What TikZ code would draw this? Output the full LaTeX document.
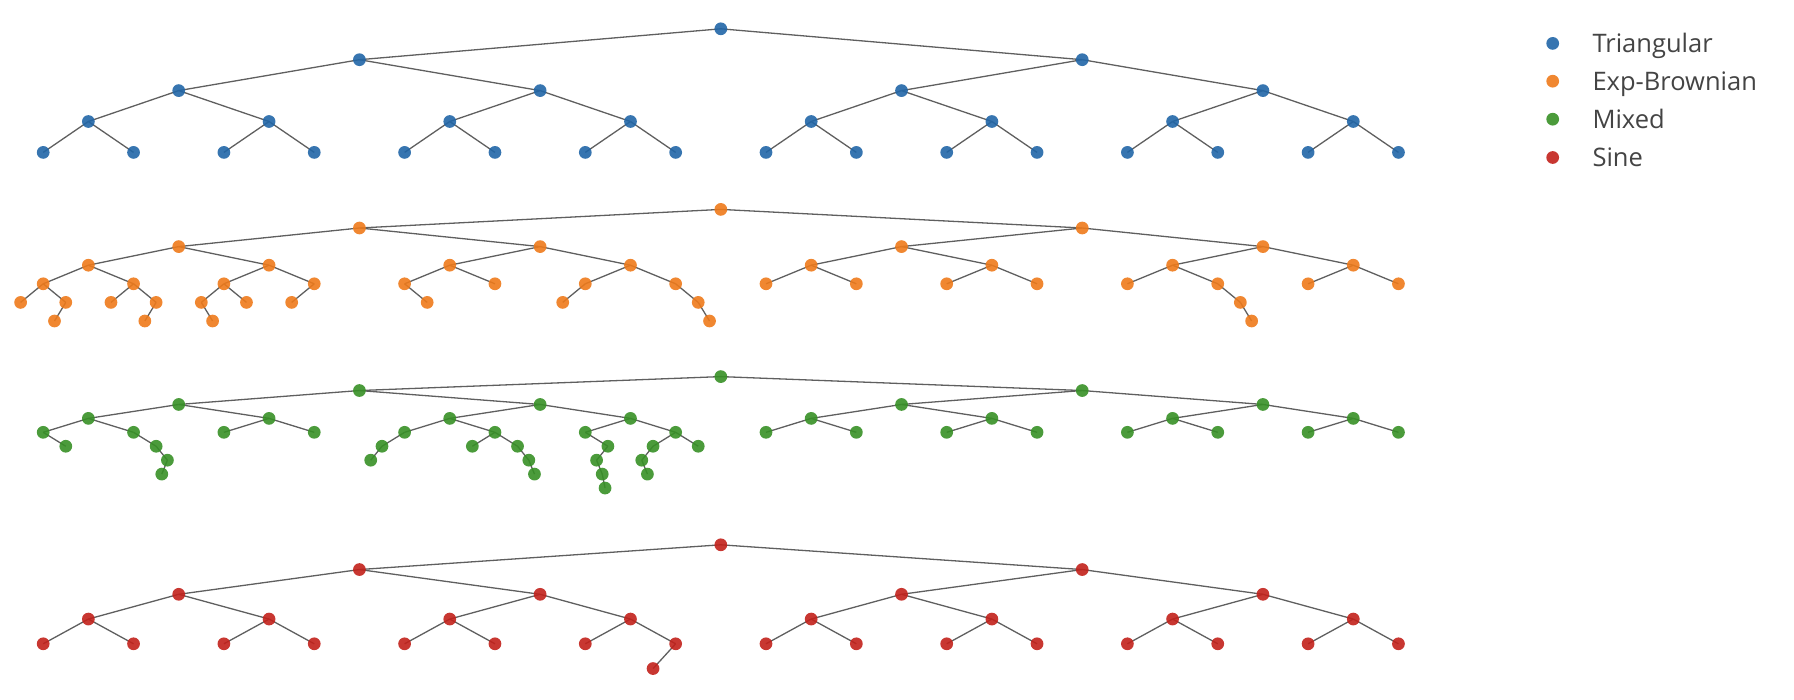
\documentclass[tikz,border=0pt]{standalone}
\usepackage{fontspec}
\setmainfont{Open Sans}
\pgfdeclarelayer{bg}
\pgfsetlayers{bg,main}
\definecolor{cblue}{RGB}{33,102,167}
\definecolor{corange}{RGB}{238,122,27}
\definecolor{cgreen}{RGB}{55,144,38}
\definecolor{cred}{RGB}{194,33,27}
\definecolor{edgegray}{RGB}{95,95,95}
\definecolor{legendgray}{RGB}{68,68,68}
% #1 prefix, #2 colour, #3 root y, #4 level gap, #5 heap index
\newcommand\tnode[5]{%
  \pgfmathtruncatemacro\dd{(#5>=2)+(#5>=4)+(#5>=8)+(#5>=16)+(#5>=32)+(#5>=64)+(#5>=128)+(#5>=256)}%
  \pgfmathsetmacro\xx{43.2+90.35*((#5-2^\dd+0.5)*16/(2^\dd)-0.5)}%
  \pgfmathsetmacro\yy{#3+#4*\dd}%
  \node[dot,fill=#2] (#1-#5) at (\xx,\yy) {};%
}
\newcommand\tedge[2]{%
  \pgfmathtruncatemacro\pp{#2/2}%
  \draw[edge] (#1-\pp.center) -- (#1-#2.center);%
}
\newcommand\fulltree[4]{%
  \foreach \n in {1,...,31} {\tnode{#1}{#2}{#3}{#4}{\n}}%
  \begin{pgfonlayer}{bg}%
  \foreach \n in {2,...,31} {\tedge{#1}{\n}}%
  \end{pgfonlayer}%
}
\newcommand\extras[5]{%
  \foreach \n in {#5} {\tnode{#1}{#2}{#3}{#4}{\n}}%
  \begin{pgfonlayer}{bg}%
  \foreach \n in {#5} {\tedge{#1}{\n}}%
  \end{pgfonlayer}%
}
\begin{document}
\begin{tikzpicture}[x=0.4pt,y=-0.4pt,
  dot/.style={circle,inner sep=0pt,minimum size=5.1pt,draw=none,fill opacity=0.9},
  edge/.style={draw=edgegray,line width=0.52pt},
  legtext/.style={anchor=base west,inner sep=0pt,text=legendgray,font=\fontsize{10.2pt}{12pt}\selectfont}]
\useasboundingbox (0,0) rectangle (1794,700);
% Triangular
\fulltree{B}{cblue}{28.8}{30.9}
% Exp-Brownian
\fulltree{O}{corange}{209.4}{18.6}
\extras{O}{corange}{209.4}{18.6}{32,33,66,34,35,70,36,37,73,38,41,44,47,95,59,119}
% Mixed
\fulltree{G}{cgreen}{376.6}{13.93}
\extras{G}{cgreen}{376.6}{13.93}{33,35,71,142,40,80,42,43,87,175,45,90,181,363,46,92,185,47}
% Sine
\fulltree{R}{cred}{544.8}{24.75}
\extras{R}{cred}{544.8}{24.75}{46}
% legend
\node[dot,fill=cblue]   (l1) at (1552.7,43.4) {};
\node[dot,fill=corange] (l2) at (1552.7,81.2) {};
\node[dot,fill=cgreen]  (l3) at (1552.7,119.2) {};
\node[dot,fill=cred]    (l4) at (1552.7,157.5) {};
\node[legtext] (t1) at (1592,52.6) {Triangular};
\node[legtext] (t2) at (1592,90.4) {Exp-Brownian};
\node[legtext] (t3) at (1592,128.4) {Mixed};
\node[legtext] (t4) at (1592,166.7) {Sine};
\end{tikzpicture}
\end{document}
